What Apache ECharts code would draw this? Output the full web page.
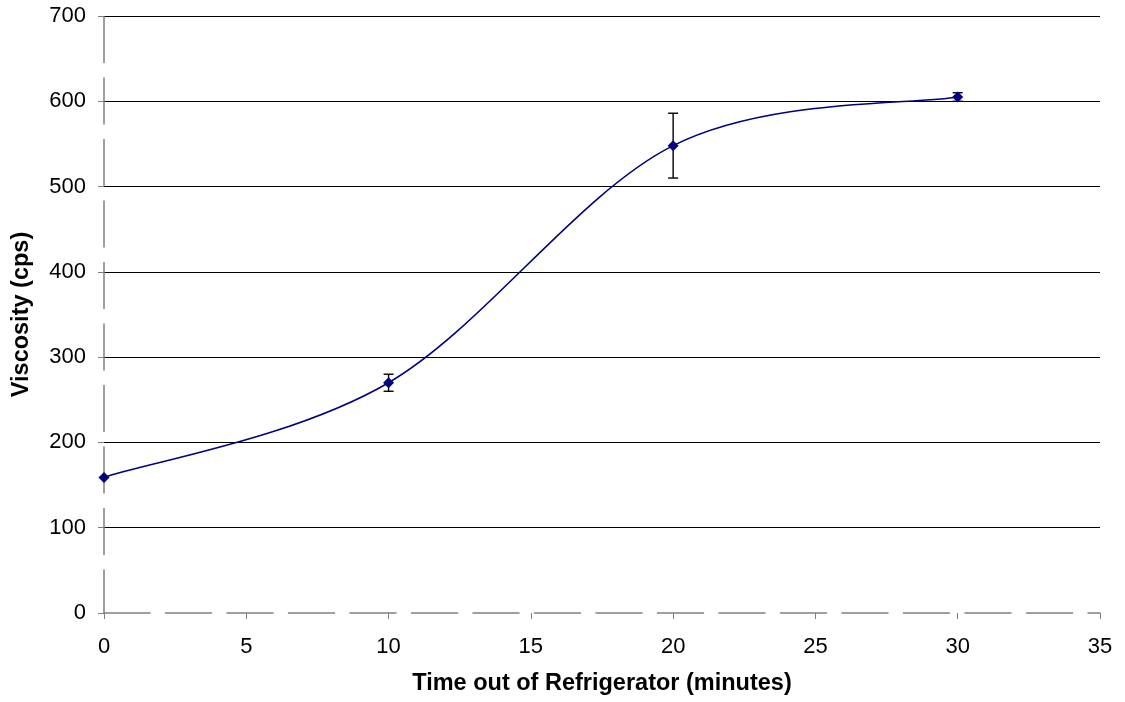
<!DOCTYPE html>
<html>
<head>
<meta charset="utf-8">
<script src="https://cdn.jsdelivr.net/npm/echarts@6/dist/echarts.min.js"></script>
<style>
  html, body { margin: 0; padding: 0; background: #fff; }
  #chart { width: 1125px; height: 702px; }
</style>
</head>
<body>
<div id="chart"></div>
<script>
// Viscosity measured after the sample leaves the refrigerator
const timeMinutes = [0, 10, 20, 30];
const viscosity = [159, 270, 548, 605];
const viscosityError = [0, 10, 38, 5];

const xTicks = { min: 0, max: 35, step: 5 };
const yTicks = { min: 0, max: 700, step: 100 };

const NAVY = '#000080';
const AXIS_GREY = '#808080';
const FONT = 'Liberation Sans, Arial, sans-serif';
const DASH = [46, 15.5];

const points = timeMinutes.map((t, i) => [t, viscosity[i]]);
const errorRows = timeMinutes.map((t, i) => [t, viscosity[i] - viscosityError[i], viscosity[i] + viscosityError[i]]);

// Smoothed curve through the measurements: cubic Bezier segments with
// Catmull-Rom style control points (tangent = (next - prev) / 6), end points duplicated.
function renderCurve(params, api) {
  if (params.dataIndex !== 0) return null;
  const p = points.map(pt => api.coord(pt));
  const n = p.length;
  const get = i => p[Math.max(0, Math.min(n - 1, i))];
  let d = 'M' + p[0][0] + ' ' + p[0][1];
  for (let i = 0; i < n - 1; i++) {
    const p0 = get(i - 1), p1 = get(i), p2 = get(i + 1), p3 = get(i + 2);
    const c1x = p1[0] + (p2[0] - p0[0]) / 6;
    const c1y = p1[1] + (p2[1] - p0[1]) / 6;
    const c2x = p2[0] - (p3[0] - p1[0]) / 6;
    const c2y = p2[1] - (p3[1] - p1[1]) / 6;
    d += ' C' + c1x + ' ' + c1y + ' ' + c2x + ' ' + c2y + ' ' + p2[0] + ' ' + p2[1];
  }
  return {
    type: 'path',
    shape: { pathData: d },
    style: { fill: null, stroke: NAVY, lineWidth: 1.6 }
  };
}

// Vertical error bar with short caps
function renderErrorBar(params, api) {
  const x = api.value(0);
  const lo = api.coord([x, api.value(1)]);
  const hi = api.coord([x, api.value(2)]);
  if (hi[1] === lo[1]) return null;
  const half = 5;
  const style = { stroke: '#000', lineWidth: 1.4 };
  return {
    type: 'group',
    children: [
      { type: 'line', shape: { x1: lo[0], y1: lo[1], x2: hi[0], y2: hi[1] }, style },
      { type: 'line', shape: { x1: lo[0] - half, y1: lo[1], x2: lo[0] + half, y2: lo[1] }, style },
      { type: 'line', shape: { x1: hi[0] - half, y1: hi[1], x2: hi[0] + half, y2: hi[1] }, style }
    ]
  };
}

const chart = echarts.init(document.getElementById('chart'), null, { renderer: 'canvas' });

chart.setOption({
  animation: false,
  backgroundColor: '#fff',
  textStyle: { fontFamily: FONT },
  grid: { left: 104, right: 25, top: 16, bottom: 89, containLabel: false },
  xAxis: {
    type: 'value',
    min: xTicks.min,
    max: xTicks.max,
    interval: xTicks.step,
    name: 'Time out of Refrigerator (minutes)',
    nameLocation: 'middle',
    nameGap: 59,
    nameTextStyle: { fontFamily: FONT, fontSize: 23.5, fontWeight: 'bold', color: '#000' },
    axisLine: { lineStyle: { color: AXIS_GREY, width: 1.5, type: DASH } },
    axisTick: { inside: false, length: 6, lineStyle: { color: AXIS_GREY, width: 1 } },
    axisLabel: { margin: 23, fontSize: 22, color: '#000', fontFamily: FONT },
    splitLine: { show: false }
  },
  yAxis: {
    type: 'value',
    min: yTicks.min,
    max: yTicks.max,
    interval: yTicks.step,
    name: 'Viscosity (cps)',
    nameLocation: 'middle',
    nameGap: 70,
    nameTextStyle: { fontFamily: FONT, fontSize: 23.5, fontWeight: 'bold', color: '#000' },
    axisLine: { show: true, lineStyle: { color: AXIS_GREY, width: 1.5, type: DASH, dashOffset: 3 } },
    axisTick: { show: true, inside: false, length: 6, lineStyle: { color: AXIS_GREY, width: 1 } },
    axisLabel: { margin: 18, fontSize: 22, color: '#000', fontFamily: FONT },
    splitLine: { show: true, showMinLine: false, lineStyle: { color: '#000', width: 1 } }
  },
  series: [
    {
      type: 'custom',
      name: 'curve',
      renderItem: renderCurve,
      data: points,
      z: 3,
      silent: true
    },
    {
      type: 'custom',
      name: 'error',
      renderItem: renderErrorBar,
      encode: { x: 0, y: [1, 2] },
      data: errorRows,
      z: 4,
      silent: true
    },
    {
      type: 'scatter',
      name: 'Viscosity',
      data: points,
      symbol: 'diamond',
      symbolSize: 11,
      itemStyle: { color: NAVY, opacity: 1 },
      z: 5
    }
  ]
});
</script>
</body>
</html>
